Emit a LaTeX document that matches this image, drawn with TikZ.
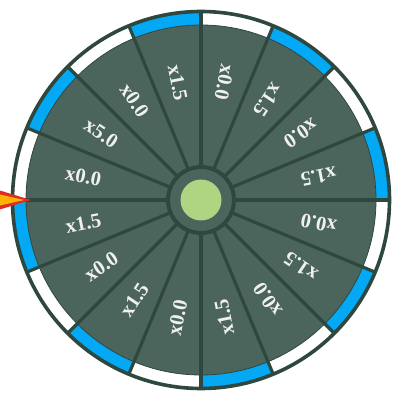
\documentclass[tikz,border=0pt]{standalone}
\usepackage{fontspec}
\usetikzlibrary{calc}
\setmainfont{Liberation Serif}
\definecolor{sectorc}{RGB}{75,101,93}
\definecolor{darkc}{RGB}{46,72,64}
\definecolor{bluec}{RGB}{3,169,244}
\definecolor{greenc}{RGB}{174,213,129}
\definecolor{redc}{RGB}{222,45,38}
\definecolor{orangec}{RGB}{255,179,0}
\tikzset{
  divider/.style={draw=darkc, line width=3.2pt},
  lbl/.style={text=white!94!black, font=\fontsize{20.5}{20.5}\selectfont\bfseries, inner sep=0pt},
}
\begin{document}
\begin{tikzpicture}[x=1pt,y=1pt]
\useasboundingbox (0,0) rectangle (400,400);
\coordinate (c) at (201,200);
% outer band
\fill[white] (c) circle (188.5);
\foreach \k in {0,2,...,14}{
  \fill[bluec] ($(c)+(\k*22.5:188.5)$) arc[start angle=\k*22.5, end angle=\k*22.5+22.5, radius=188.5]
     -- ($(c)+(\k*22.5+22.5:175)$) arc[start angle=\k*22.5+22.5, end angle=\k*22.5, radius=175] -- cycle;
}
% sector disk
\fill[sectorc] (c) circle (175);
\draw[darkc, line width=0.8pt] (c) circle (175);
% outer rim
\draw[darkc, line width=3.6pt] (c) circle (188.5);
% dividers
\foreach \k in {0,...,15}{
  \draw[divider] ($(c)+(\k*22.5:34)$) -- ($(c)+(\k*22.5:189)$);
}
% labels
\foreach \k/\t in {0/x1.5,1/x0.0,2/x1.5,3/x0.0,4/x1.5,5/x0.0,6/x5.0,7/x0.0,8/x1.5,9/x0.0,10/x1.5,11/x0.0,12/x1.5,13/x0.0,14/x1.5,15/x0.0}{
  \pgfmathsetmacro{\ang}{\k*22.5+11.25}
  \node[lbl, rotate=\ang+180] (lab\k) at ($(c)+(\ang:120)$) {\t};
}
% hub
\node[circle, fill=sectorc, draw=darkc, line width=4pt, minimum size=66pt, inner sep=0pt] (hub) at (c) {};
\node[circle, fill=greenc, minimum size=41pt, inner sep=0pt] (knob) at (c) {};
% pointer
\fill[redc] (-5,211) -- (31,200) -- (-5,189) -- cycle;
\fill[orangec] (0,205.5) -- (24,200) -- (0,194.5) -- cycle;
\end{tikzpicture}
\end{document}
